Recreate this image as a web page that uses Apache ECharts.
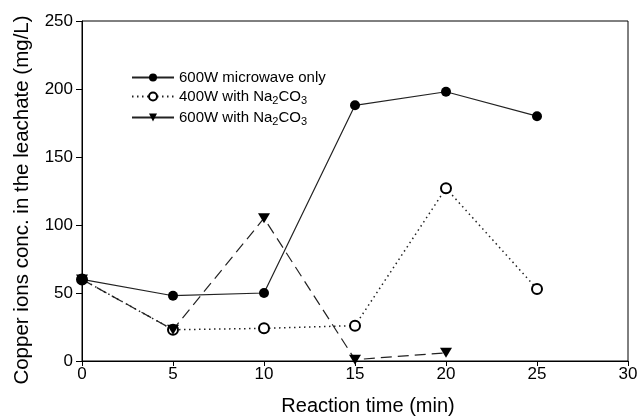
<!DOCTYPE html>
<html lang="en">
<head>
<meta charset="UTF-8">
<title>copper ions</title>
<script src="https://cdn.jsdelivr.net/npm/echarts@6/dist/echarts.min.js"></script>
<style>
  html, body { margin: 0; padding: 0; background: #fff; }
  #chart { width: 640px; height: 418px; }
</style>
</head>
<body>
<div id="chart"></div>
<script>
// reaction time (min)
var times = [0, 5, 10, 15, 20, 25];
// copper ion concentration (mg/L)
var mwOnly = [60, 48, 50, 188, 198, 180];
var w400Na = [60, 23, 24, 26, 127, 53];
var w600Na = [60, 23, 105, 1, 6];
var seriesNames = ['600W microwave only', '400W with Na2CO3', '600W with Na2CO3'];

var font = 'Liberation Sans, Arial, Helvetica, sans-serif';
var triDown = 'path://M0,0 L10,0 L5,9 Z';

function pairs(vals) {
  var out = [];
  for (var i = 0; i < vals.length; i++) out.push([times[i], vals[i]]);
  return out;
}

var chart = echarts.init(document.getElementById('chart'));
chart.setOption({
  animation: false,
  backgroundColor: '#fff',
  grid: {
    left: 82, right: 12, top: 21, bottom: 57,
    outerBoundsMode: 'none',
    show: true, borderColor: '#000', borderWidth: 1
  },
  legend: {
    orient: 'vertical',
    left: 126, top: 65,
    itemWidth: 42, itemHeight: 10, itemGap: 4,
    textStyle: {
      fontFamily: font, fontSize: 15, color: '#000',
      rich: {
        a: { fontFamily: font, fontSize: 15, color: '#000' },
        s: { fontFamily: font, fontSize: 11, color: '#000', padding: [8, 0, 0, 0] }
      }
    },
    formatter: function (name) {
      if (name.indexOf('Na2CO3') >= 0) {
        return '{a|' + name.replace('Na2CO3', 'Na') + '}{s|2}{a|CO}{s|3}';
      }
      return '{a|' + name + '}';
    },
    data: [
      { name: seriesNames[0] },
      { name: seriesNames[1] },
      { name: seriesNames[2], lineStyle: { type: 'solid' } }
    ]
  },
  xAxis: {
    type: 'value', min: 0, max: 30, interval: 5,
    name: 'Reaction time (min)', nameLocation: 'middle', nameGap: 35,
    nameTextStyle: { fontFamily: font, fontSize: 20, color: '#000', padding: [0, 0, 0, 26] },
    axisLine: { lineStyle: { color: '#000', width: 1 } },
    axisTick: { length: 5, lineStyle: { color: '#000' } },
    axisLabel: { fontFamily: font, fontSize: 17, color: '#000', margin: 5 },
    splitLine: { show: false }
  },
  yAxis: {
    type: 'value', min: 0, max: 250, interval: 50,
    name: 'Copper ions conc. in the leachate (mg/L)', nameLocation: 'middle', nameGap: 49,
    nameTextStyle: { fontFamily: font, fontSize: 20.5, color: '#000', padding: [0, 18, 0, 0] },
    axisLine: { show: true, lineStyle: { color: '#000', width: 1 } },
    axisTick: { show: true, length: 6, lineStyle: { color: '#000' } },
    axisLabel: { fontFamily: font, fontSize: 17, color: '#000', margin: 9 },
    splitLine: { show: false }
  },
  // open circles first so the filled markers sit on top of them
  series: [
    {
      name: seriesNames[1], type: 'line', data: pairs(w400Na),
      symbol: 'emptyCircle', symbolSize: 10,
      itemStyle: { color: '#000', borderWidth: 1.3 },
      lineStyle: { color: '#222', width: 1.5, type: [1.5, 3.5] }
    },
    {
      name: seriesNames[2], type: 'line', data: pairs(w600Na),
      symbol: triDown, symbolSize: [12, 10],
      itemStyle: { color: '#000' },
      lineStyle: { color: '#222', width: 1.2, type: [11, 6] }
    },
    {
      name: seriesNames[0], type: 'line', data: pairs(mwOnly),
      symbol: 'circle', symbolSize: 10,
      itemStyle: { color: '#000' },
      lineStyle: { color: '#222', width: 1.2, type: 'solid' }
    }
  ]
});
</script>
</body>
</html>
